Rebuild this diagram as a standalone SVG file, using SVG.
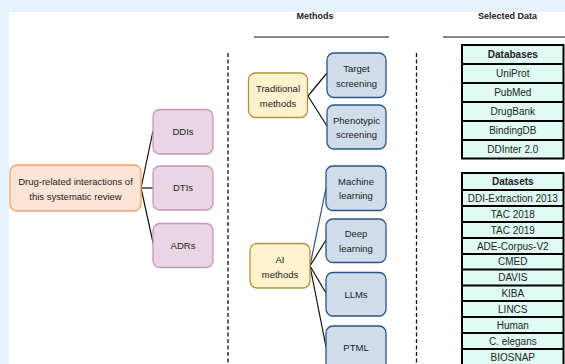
<svg xmlns="http://www.w3.org/2000/svg" width="565" height="364" viewBox="0 0 565 364">
<style>
text{font-family:"Liberation Sans",Arial,sans-serif;fill:#222;text-anchor:middle}
.n{font-size:9.5px}
.h{font-size:9px;font-weight:bold}
.t{font-size:10px}
.tb{font-size:10px;font-weight:bold}
.pk{fill:#e9d6e2;stroke:#c995b5;stroke-width:1.3}
.yl{fill:#fff2cc;stroke:#b3933a;stroke-width:1.3}
.bl{fill:#cfdcea;stroke:#2a5586;stroke-width:1.3}
.c{stroke:#111;stroke-width:1.2;fill:none}
.dash{stroke:#111;stroke-width:1.3;stroke-dasharray:4,2.5}
.tab{fill:#dffbf4;stroke:#000;stroke-width:2}
</style>
<rect x="0" y="0" width="565" height="364" fill="#e6f3fc"/>
<rect x="9" y="12" width="556" height="352" fill="#ffffff"/>

<g id="headers">
<text class="h" x="315" y="18.7">Methods</text>
<text class="h" x="507.5" y="18.7">Selected Data</text>
<line x1="254" y1="37" x2="389" y2="37" stroke="#111" stroke-width="1.2"/>
<line x1="443" y1="37" x2="565" y2="37" stroke="#111" stroke-width="1.2"/>
<line class="dash" x1="228" y1="53" x2="228" y2="364"/>
<line class="dash" x1="416.5" y1="53" x2="416.5" y2="364"/>
</g>

<g id="connectors">
<line class="c" x1="141" y1="188" x2="153" y2="131"/>
<line class="c" x1="141" y1="188" x2="153" y2="188"/>
<line class="c" x1="141" y1="188" x2="154" y2="247"/>
<line class="c" x1="308" y1="96" x2="327" y2="73"/>
<line class="c" x1="308" y1="96" x2="327" y2="126"/>
<line x1="310" y1="266" x2="326" y2="188" stroke="#2a5586" stroke-width="1.2"/>
<line class="c" x1="310" y1="266" x2="326" y2="240"/>
<line class="c" x1="310" y1="266" x2="326" y2="293"/>
<line class="c" x1="310" y1="266" x2="326" y2="347"/>
</g>

<g id="center">
<rect x="10" y="165" width="131" height="46" rx="7" fill="#fce4d6" stroke="#f4a266" stroke-width="1.3"/>
<text class="n" x="75.5" y="185">Drug-related interactions of</text>
<text class="n" x="75.5" y="199.5">this systematic review</text>
</g>

<g id="ddis"><rect class="pk" x="153" y="109.5" width="60" height="44.5" rx="7"/><text class="n" x="183" y="135">DDIs</text></g>
<g id="dtis"><rect class="pk" x="153" y="166" width="60" height="44" rx="7"/><text class="n" x="183" y="191.3">DTIs</text></g>
<g id="adrs"><rect class="pk" x="153" y="223.5" width="60" height="44" rx="7"/><text class="n" x="183" y="249">ADRs</text></g>

<g id="traditional"><rect class="yl" x="248.5" y="73" width="59" height="44.5" rx="7"/><text class="n" x="278" y="91.5">Traditional</text><text class="n" x="278" y="106.5">methods</text></g>
<g id="ai"><rect class="yl" x="250" y="243.5" width="60" height="44.5" rx="7"/><text class="n" x="280" y="263.3">AI</text><text class="n" x="280" y="278.3">methods</text></g>

<g id="target"><rect class="bl" x="327" y="53" width="59" height="44.5" rx="7"/><text class="n" x="356.5" y="72.3">Target</text><text class="n" x="356.5" y="86.6">screening</text></g>
<g id="phenotypic"><rect class="bl" x="327" y="105" width="59" height="44" rx="7"/><text class="n" x="356.5" y="124.3">Phenotypic</text><text class="n" x="356.5" y="138.3">screening</text></g>
<g id="ml"><rect class="bl" x="326" y="166" width="60" height="44.5" rx="7"/><text class="n" x="356" y="185">Machine</text><text class="n" x="356" y="199.3">learning</text></g>
<g id="dl"><rect class="bl" x="326" y="219" width="60" height="43.5" rx="7"/><text class="n" x="356" y="237.3">Deep</text><text class="n" x="356" y="252.3">learning</text></g>
<g id="llms"><rect class="bl" x="326" y="272.5" width="60" height="43.5" rx="7"/><text class="n" x="356" y="298.3">LLMs</text></g>
<g id="ptml"><rect class="bl" x="326" y="326" width="60" height="44.5" rx="7"/><text class="n" x="356" y="351">PTML</text></g>

<g id="databases">
<rect class="tab" x="462" y="45" width="101.5" height="113.5"/>
<g stroke="#000" stroke-width="2">
<line x1="462" y1="64" x2="563.5" y2="64"/>
<line x1="462" y1="83" x2="563.5" y2="83"/>
<line x1="462" y1="102" x2="563.5" y2="102"/>
<line x1="462" y1="121" x2="563.5" y2="121"/>
<line x1="462" y1="140" x2="563.5" y2="140"/>
</g>
<text class="tb" x="512.8" y="58">Databases</text>
<text class="t" x="512.8" y="77">UniProt</text>
<text class="t" x="512.8" y="96">PubMed</text>
<text class="t" x="512.8" y="115">DrugBank</text>
<text class="t" x="512.8" y="134">BindingDB</text>
<text class="t" x="512.8" y="153">DDInter 2.0</text>
</g>

<g id="datasets">
<rect class="tab" x="462" y="173" width="101.5" height="195"/>
<g stroke="#000" stroke-width="2">
<line x1="462" y1="190" x2="563.5" y2="190"/>
<line x1="462" y1="206" x2="563.5" y2="206"/>
<line x1="462" y1="222" x2="563.5" y2="222"/>
<line x1="462" y1="238" x2="563.5" y2="238"/>
<line x1="462" y1="254" x2="563.5" y2="254"/>
<line x1="462" y1="269.5" x2="563.5" y2="269.5"/>
<line x1="462" y1="285.5" x2="563.5" y2="285.5"/>
<line x1="462" y1="301" x2="563.5" y2="301"/>
<line x1="462" y1="317" x2="563.5" y2="317"/>
<line x1="462" y1="333" x2="563.5" y2="333"/>
<line x1="462" y1="349" x2="563.5" y2="349"/>
</g>
<text class="tb" x="512.8" y="185">Datasets</text>
<text class="t" x="512.8" y="201.5">DDI-Extraction 2013</text>
<text class="t" x="512.8" y="217.5">TAC 2018</text>
<text class="t" x="512.8" y="233.5">TAC 2019</text>
<text class="t" x="512.8" y="249.5">ADE-Corpus-V2</text>
<text class="t" x="512.8" y="265">CMED</text>
<text class="t" x="512.8" y="281">DAVIS</text>
<text class="t" x="512.8" y="296.5">KIBA</text>
<text class="t" x="512.8" y="312.5">LINCS</text>
<text class="t" x="512.8" y="328.5">Human</text>
<text class="t" x="512.8" y="344.5">C. elegans</text>
<text class="t" x="512.8" y="360.5">BIOSNAP</text>
</g>
</svg>
